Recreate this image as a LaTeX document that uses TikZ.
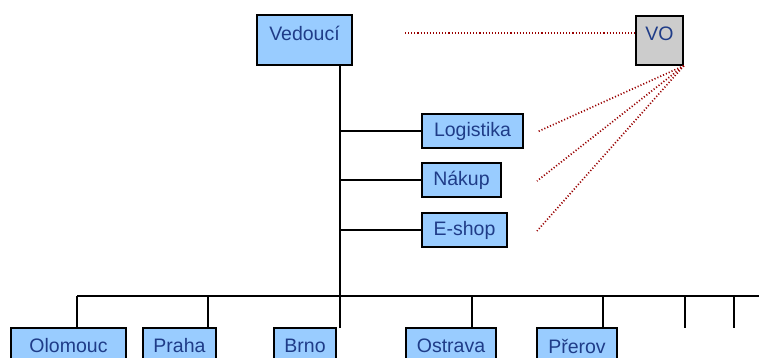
\documentclass[tikz,border=0pt]{standalone}
\usepackage{fontspec}
\setmainfont{Liberation Sans}
\definecolor{boxblue}{HTML}{99CCFF}
\definecolor{txtblue}{HTML}{1F3C88}
\definecolor{dotred}{HTML}{990000}
\definecolor{vogray}{HTML}{CCCCCC}
\newcommand{\upshift}[1]{\raisebox{7pt}[\height][\depth]{#1}}
\begin{document}
\begin{tikzpicture}[x=1pt,y=-1pt,
  orgbox/.style={draw=black,line width=1.6pt,fill=boxblue,text=txtblue,inner sep=0pt,
    font=\fontsize{19.5}{21}\selectfont},
  conn/.style={line width=1.4pt,black},
  rel/.style={dotred,line width=1.7pt,dash pattern=on 1.1pt off 2pt}]
\useasboundingbox (0,0) rectangle (759,358);
\clip (0,0) rectangle (759,358);
\fill[white] (0,0) rectangle (759,358);
% top nodes
\node[orgbox,minimum width=95pt,minimum height=50pt] (vedouci) at (304.5,40) {\upshift{Vedoucí}};
\node[orgbox,fill=vogray,minimum width=47pt,minimum height=49pt] (vo) at (659.5,40.5) {\upshift{VO}};
\node[orgbox,minimum width=101pt,minimum height=34pt] (logistika) at (472.5,131) {Logistika};
\node[orgbox,minimum width=79pt,minimum height=34pt] (nakup) at (461.5,180) {Nákup};
\node[orgbox,minimum width=85pt,minimum height=34pt] (eshop) at (464.5,230) {E-shop};
% bottom nodes
\node[orgbox,minimum width=115pt,minimum height=36pt] (olomouc) at (68.5,346) {Olomouc\hspace{12pt}};
\node[orgbox,minimum width=73pt,minimum height=36pt] (praha) at (179.5,346) {Praha};
\node[orgbox,minimum width=62pt,minimum height=36pt] (brno) at (305,346) {Brno};
\node[orgbox,minimum width=90pt,minimum height=36pt] (ostrava) at (451,346) {Ostrava};
\node[orgbox,minimum width=80pt,minimum height=36pt] (prerov) at (577,346) {Přerov};
% coordinates
\coordinate (spine) at (340,65);
\coordinate (spineend) at (340,328);
\coordinate (barL) at (77,296);
\coordinate (barR) at (760,296);
\coordinate (dOl) at (77,296);
\coordinate (dPr) at (208,296);
\coordinate (dOs) at (472,296);
\coordinate (dPe) at (603,296);
\coordinate (dX1) at (685,296);
\coordinate (dX2) at (734,296);
\coordinate (e1) at (685,328);
\coordinate (e2) at (734,328);
% tree connectors
\draw[conn] (spine) -- (spineend);
\draw[conn] (barL) -- (barR);
\draw[conn] (spine |- logistika.west) -- (logistika.west);
\draw[conn] (spine |- nakup.west) -- (nakup.west);
\draw[conn] (spine |- eshop.west) -- (eshop.west);
\draw[conn] (dOl) -- (dOl |- olomouc.north);
\draw[conn] (dPr) -- (dPr |- praha.north);
\draw[conn] (dOs) -- (dOs |- ostrava.north);
\draw[conn] (dPe) -- (dPe |- prerov.north);
\draw[conn] (dX1) -- (e1);
\draw[conn] (dX2) -- (e2);
% dotted relations
\coordinate (r0) at (405,33);
\coordinate (r1) at (537,132);
\coordinate (r2) at (537,181);
\coordinate (r3) at (537,231);
\draw[rel] (r0) -- (r0 -| vo.west);
\draw[rel] (vo.south east) -- (r1);
\draw[rel] (vo.south east) -- (r2);
\draw[rel] (vo.south east) -- (r3);
\end{tikzpicture}
\end{document}
